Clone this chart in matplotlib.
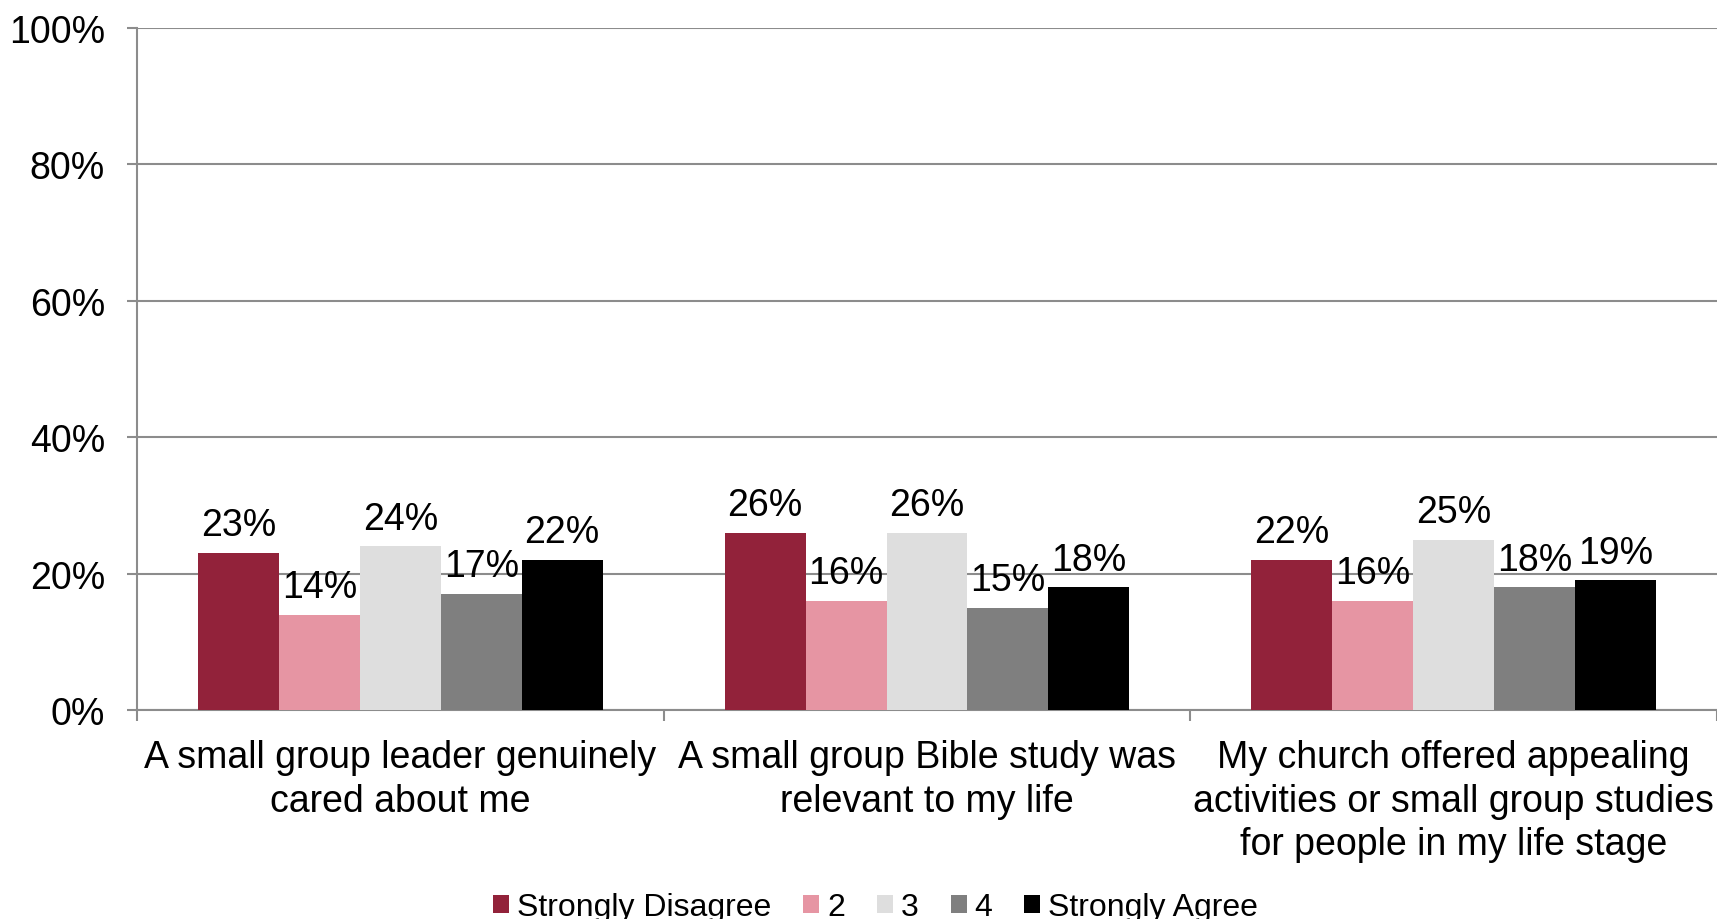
import numpy as np
import matplotlib

matplotlib.use('Agg')
import matplotlib.pyplot as plt
from matplotlib.ticker import PercentFormatter, FixedLocator

plt.rcParams['font.family'] = ['Liberation Sans', 'DejaVu Sans']

# data
categories = [
    "A small group leader genuinely\ncared about me",
    "A small group Bible study was\nrelevant to my life",
    "My church offered appealing\nactivities or small group studies\nfor people in my life stage",
]
series_names = ["Strongly Disagree", "2", "3", "4", "Strongly Agree"]
strongly_disagree = [23, 26, 22]
rating_2 = [14, 16, 16]
rating_3 = [24, 26, 25]
rating_4 = [17, 15, 18]
strongly_agree = [22, 18, 19]
colors = ["#92223A", "#E695A3", "#DEDEDE", "#7F7F7F", "#000000"]

series = [strongly_disagree, rating_2, rating_3, rating_4, strongly_agree]

fig = plt.figure(figsize=(17.17, 9.2), dpi=100)
ax = fig.add_axes([0.0798, 0.227, 0.9202, 0.742])

x = np.arange(len(categories))
n = len(series)
bw = 0.768 / n
for i, (vals, name, col) in enumerate(zip(series, series_names, colors)):
    pos = x + (i - (n - 1) / 2) * bw
    bars = ax.bar(pos, vals, width=bw, color=col, label=name, zorder=3)
    for b, v in zip(bars, vals):
        ax.annotate(f"{v}%", (b.get_x() + b.get_width() / 2, v),
                    xytext=(0, 7), textcoords='offset points',
                    ha='center', va='bottom', fontsize=27, zorder=4)

ax.set_xlim(-0.5, len(categories) - 0.5)
ax.set_ylim(0, 100)
ax.yaxis.set_major_locator(FixedLocator([0, 20, 40, 60, 80, 100]))
ax.yaxis.set_major_formatter(PercentFormatter(decimals=0))
ax.grid(axis='y', color='#8C8C8C', linewidth=1.5, zorder=0)

# category labels centred, ticks on the group boundaries
ax.set_xticks(x)
ax.set_xticklabels(categories, fontsize=27, linespacing=1.27)
ax.tick_params(axis='x', which='major', length=0, pad=21)
ax.set_xticks(np.arange(-0.5, len(categories) + 0.5, 1), minor=True)
ax.tick_params(axis='x', which='minor', length=8, width=1.5, color='#8C8C8C')
ax.tick_params(axis='y', length=7, width=1.5, color='#8C8C8C', labelsize=27, pad=16)

for s in ['top', 'right']:
    ax.spines[s].set_visible(False)
for s in ['left', 'bottom']:
    ax.spines[s].set_color('#8C8C8C')
    ax.spines[s].set_linewidth(1.5)

fig.legend(loc='center', bbox_to_anchor=(0.51, 0.013), ncol=5, frameon=False,
           fontsize=23, handlelength=0.5, handleheight=0.5, handletextpad=0.25,
           columnspacing=1.0, borderaxespad=0)

fig.savefig('out.png', dpi=100)
